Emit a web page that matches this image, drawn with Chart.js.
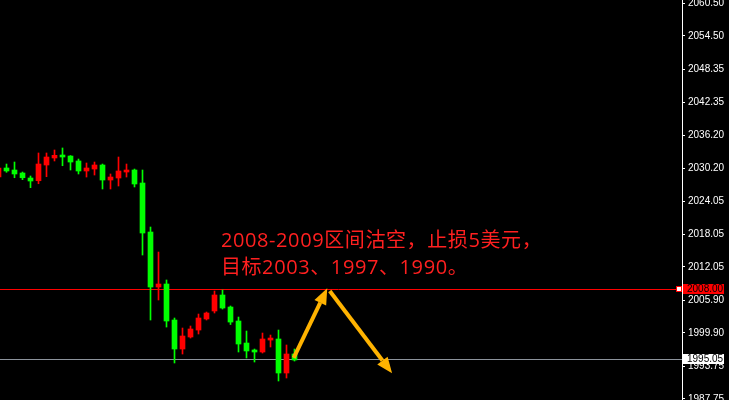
<!DOCTYPE html>
<html>
<head>
<meta charset="utf-8">
<script src="https://cdn.jsdelivr.net/npm/chart.js@4/dist/chart.umd.min.js"></script>
<style>
  html, body { margin: 0; padding: 0; background: #000; }
  canvas { display: block; }
</style>
</head>
<body>
<canvas id="chart" width="729" height="400"></canvas>
<script>
// candle data (first candle is cut by the left edge)
const opens  = [2028.56, 2030.22, 2029.85, 2029.30, 2028.38, 2027.88, 2030.77, 2032.06, 2032.55, 2032.42,
                2031.51, 2029.67, 2030.03, 2030.77, 2028.01, 2028.38, 2029.48, 2029.85, 2027.46, 2018.45,
                2008.34, 2008.89, 2002.27, 1996.94, 1999.15, 2000.43, 2002.46, 2003.93, 2006.87, 2004.66,
                2002.09, 1998.04, 1996.76, 1996.39, 1998.59, 1998.78, 1992.53, 1996.02];
const highs  = [2030.59, 2030.95, 2031.32, 2029.48, 2028.75, 2032.98, 2032.98, 2033.53, 2033.90, 2032.50,
                2031.87, 2031.14, 2031.32, 2030.95, 2029.12, 2032.24, 2030.95, 2030.03, 2029.85, 2019.37,
                2014.77, 2009.63, 2002.64, 2000.80, 2001.17, 2003.37, 2003.74, 2007.60, 2007.79, 2004.85,
                2002.82, 2000.25, 1996.94, 1999.88, 1999.51, 2000.43, 1997.68, 1996.94];
const lows   = [2028.38, 2029.43, 2028.43, 2028.07, 2026.60, 2027.33, 2028.62, 2031.51, 2030.64, 2029.85,
                2029.12, 2028.56, 2028.93, 2026.36, 2026.36, 2026.91, 2028.56, 2026.73, 2014.22, 2002.27,
                2005.95, 2000.98, 1994.37, 1996.02, 1998.96, 1999.70, 2002.27, 2003.56, 2004.29, 2001.44,
                1996.39, 1995.29, 1994.55, 1996.20, 1997.31, 1991.06, 1991.61, 1994.73];
const closes = [2030.22, 2029.67, 2029.12, 2028.43, 2027.83, 2030.95, 2032.24, 2032.55, 2032.24, 2031.32,
                2029.67, 2030.22, 2030.77, 2028.01, 2028.56, 2029.67, 2029.85, 2027.28, 2018.27, 2008.34,
                2008.89, 2002.09, 1996.94, 1999.33, 2000.62, 2002.64, 2003.56, 2006.87, 2004.48, 2001.90,
                1997.86, 1996.58, 1996.39, 1998.78, 1998.78, 1992.53, 1996.02, 1994.92];

const priceTicks = [2060.50, 2054.50, 2048.35, 2042.35, 2036.20, 2030.20, 2024.05,
                    2018.05, 2012.05, 2005.90, 1999.90, 1993.75, 1987.75];

const stopLevel = 2008.00;   // red line
const lastPrice = 1995.05;   // grey line

const noteLines = ["2008-2009区间沽空，止损5美元，", "目标2003、1997、1990。"];
const notePos = [[26.8, 2015.70], [26.8, 2010.73]];

// arrows in bar index / price units: [x1, y1, x2, y2]
const arrows = [
  [35.9, 1995.29, 40.09, 2008.10],
  [40.41, 2007.60, 48.2, 1992.47]
];

const UP = "#ff0000", DOWN = "#00ff00";
const colors = opens.map((o, i) => closes[i] > o ? UP : DOWN);
const xs = opens.map((o, i) => i - 1);

function drawArrow(ctx, x1, y1, x2, y2) {
  const ang = Math.atan2(y2 - y1, x2 - x1);
  const headLen = 16, headW = 6.5;
  const bx = x2 - Math.cos(ang) * headLen, by = y2 - Math.sin(ang) * headLen;
  ctx.strokeStyle = "#ffb300";
  ctx.fillStyle = "#ffb300";
  ctx.lineWidth = 4;
  ctx.beginPath();
  ctx.moveTo(x1, y1);
  ctx.lineTo(bx, by);
  ctx.stroke();
  ctx.beginPath();
  ctx.moveTo(x2, y2);
  ctx.lineTo(bx + Math.sin(ang) * headW, by - Math.cos(ang) * headW);
  ctx.lineTo(bx - Math.sin(ang) * headW, by + Math.cos(ang) * headW);
  ctx.closePath();
  ctx.fill();
}

const overlay = {
  id: "overlay",
  beforeDatasetsDraw(chart) {
    const { ctx, chartArea, scales: { y } } = chart;
    ctx.save();
    ctx.lineWidth = 1;
    const ys = Math.round(y.getPixelForValue(stopLevel)) + 0.5;
    ctx.strokeStyle = "#ff0000";
    ctx.beginPath();
    ctx.moveTo(chartArea.left, ys);
    ctx.lineTo(chartArea.right - 5, ys);
    ctx.stroke();
    const yl = Math.round(y.getPixelForValue(lastPrice)) + 0.5;
    ctx.strokeStyle = "#8c939c";
    ctx.beginPath();
    ctx.moveTo(chartArea.left, yl);
    ctx.lineTo(chartArea.right, yl);
    ctx.stroke();
    ctx.restore();
  },
  afterDatasetsDraw(chart) {
    const { ctx, scales: { x, y } } = chart;
    ctx.save();
    ctx.font = '20px "Open Sans", "Noto Sans CJK SC"';
    ctx.letterSpacing = "0.6px";
    ctx.fillStyle = "#ff2020";
    ctx.textBaseline = "alphabetic";
    noteLines.forEach((t, i) => {
      ctx.fillText(t, x.getPixelForValue(notePos[i][0]), y.getPixelForValue(notePos[i][1]));
    });
    ctx.letterSpacing = "0px";
    arrows.forEach(a => drawArrow(ctx,
      x.getPixelForValue(a[0]), y.getPixelForValue(a[1]),
      x.getPixelForValue(a[2]), y.getPixelForValue(a[3])));
    ctx.restore();
  },
  afterDraw(chart) {
    const { ctx, chartArea, scales: { y } } = chart;
    ctx.save();
    ctx.font = '10px "Liberation Sans"';
    ctx.textBaseline = "middle";
    const tag = (val, bg) => {
      const py = Math.round(y.getPixelForValue(val));
      ctx.fillStyle = bg;
      ctx.fillRect(chartArea.right + 1, py - 5, 41, 10);
      ctx.fillStyle = "#000";
      ctx.fillText(val.toFixed(2), chartArea.right + 5, py + 0.5);
    };
    tag(stopLevel, "#ff0000");
    tag(lastPrice, "#ffffff");
    // small marker at the end of the stop line
    const ys = Math.round(y.getPixelForValue(stopLevel));
    ctx.fillStyle = "#ffffff";
    ctx.fillRect(chartArea.right - 5, ys - 2, 4, 4);
    ctx.strokeStyle = "#ff0000";
    ctx.lineWidth = 1;
    ctx.strokeRect(chartArea.right - 5.5, ys - 2.5, 5, 5);
    ctx.restore();
  }
};

new Chart(document.getElementById("chart"), {
  type: "bar",
  data: {
    datasets: [
      {
        data: xs.map((x, i) => ({ x: x, y: [opens[i], closes[i]] })),
        backgroundColor: colors,
        barThickness: 5,
        minBarLength: 2,
        grouped: false,
        borderWidth: 0
      },
      {
        data: xs.map((x, i) => ({ x: x, y: [lows[i], highs[i]] })),
        backgroundColor: colors,
        barThickness: 1,
        grouped: false,
        borderWidth: 0
      }
    ]
  },
  options: {
    responsive: false,
    animation: false,
    layout: { padding: 0 },
    plugins: { legend: { display: false }, tooltip: { enabled: false } },
    scales: {
      x: { type: "linear", display: false, offset: false, min: -0.8125, max: 84.4375 },
      y: {
        position: "right",
        min: 1987.566,
        max: 2061.107,
        afterBuildTicks: scale => { scale.ticks = priceTicks.map(v => ({ value: v })); },
        afterFit: scale => {
          scale.width = 47;
          scale.paddingTop = 0;
          scale.paddingBottom = 0;
        },
        border: { display: true, color: "#ffffff", width: 1 },
        grid: { drawOnChartArea: false, color: "#ffffff", tickLength: 3 },
        ticks: {
          color: "#ffffff",
          padding: 3,
          font: { family: "Liberation Sans", size: 10 },
          callback: v => v.toFixed(2)
        }
      }
    }
  },
  plugins: [overlay]
});
</script>
</body>
</html>
